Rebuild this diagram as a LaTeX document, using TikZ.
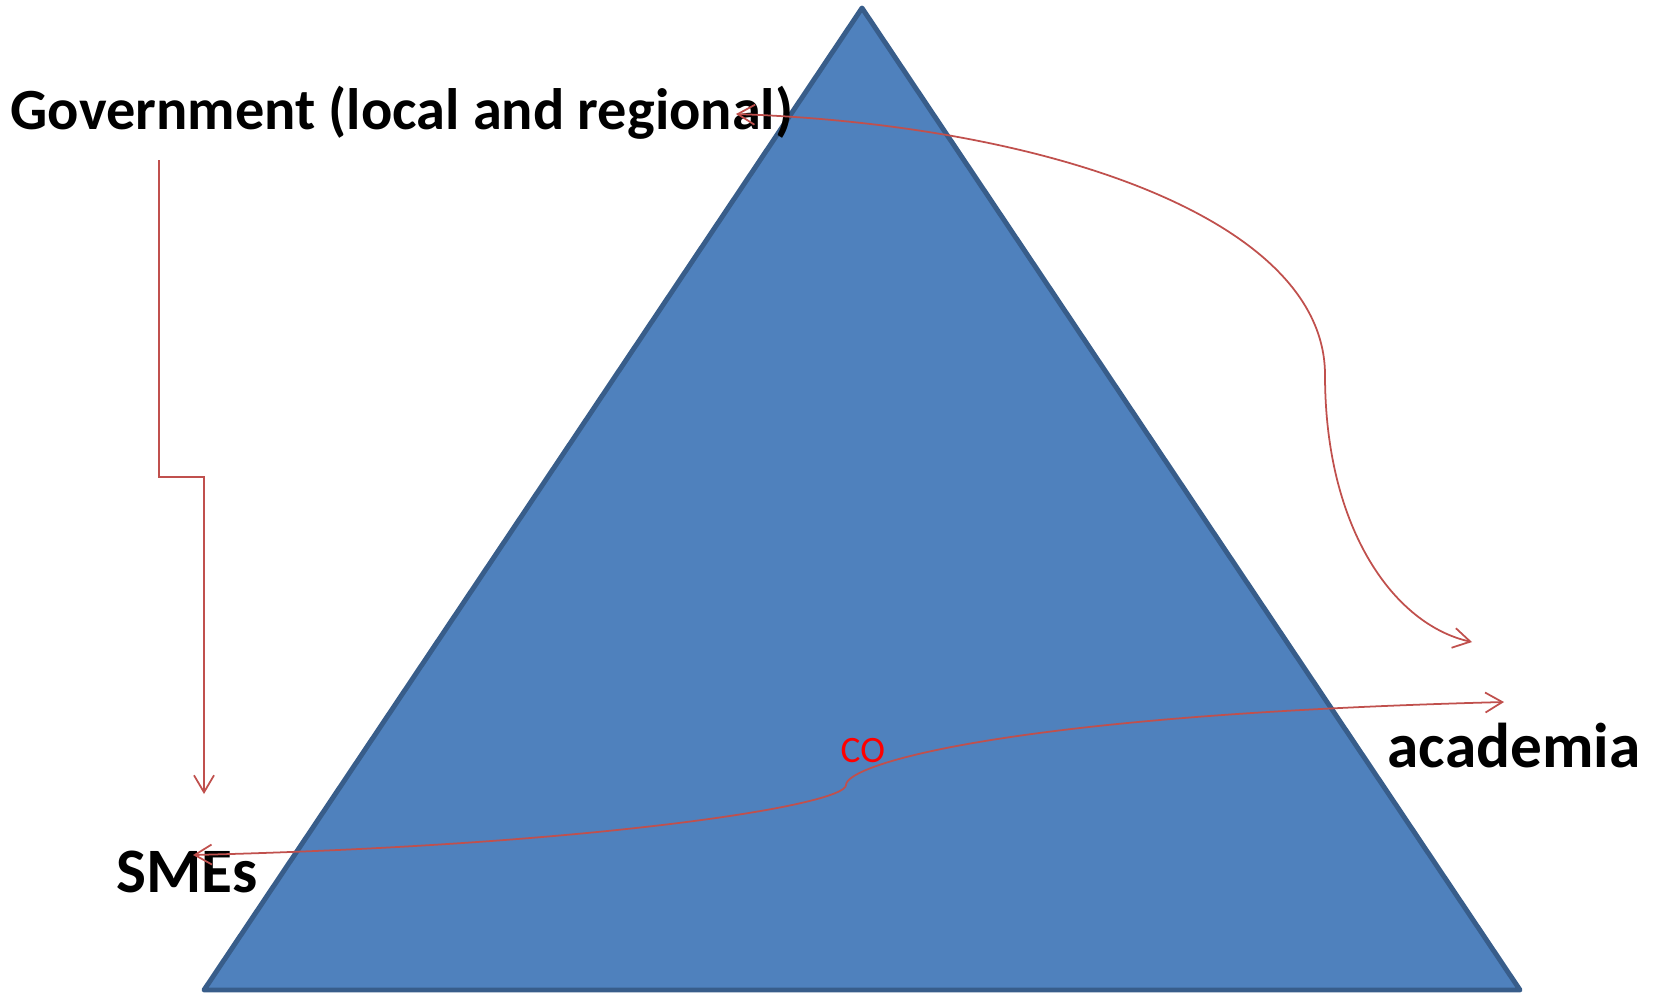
\documentclass[tikz,border=0pt]{standalone}
\usepackage{fontspec}
\setmainfont{Carlito}
\usetikzlibrary{arrows.meta}

\definecolor{triblue}{HTML}{4F81BD}
\definecolor{triedge}{HTML}{385D8A}
\definecolor{linkred}{HTML}{C0504D}

\begin{document}
\begin{tikzpicture}[x=0.01cm, y=-0.01cm,
  actor/.style={inner sep=0pt, anchor=base west, font=\bfseries\fontsize{18}{20}\selectfont},
  link/.style={draw=linkred, line width=0.5pt, -{Straight Barb[length=1.7mm, width=2mm]}},
  twolink/.style={link, {Straight Barb[length=1.7mm, width=2mm]}-{Straight Barb[length=1.7mm, width=2mm]}}]
  \useasboundingbox (0,0) rectangle (1655,993);

  % the pyramid
  \draw [fill=triblue, draw=triedge, line width=1.4pt, line join=round]
    (862,8) -- (1520,990) -- (204,990) -- cycle;

  \node (gov) [actor, font=\bfseries\fontsize{16.6}{20}\selectfont] at (10,129) {Government (local and regional)};
  \node (smes) [actor] at (116,892) {SMEs};
  \node (academia) [actor] at (1387,767) {academia};
  \node (co) [inner sep=0pt, anchor=base west, text=red, font=\fontsize{10.6}{12}\selectfont] at (840,762) {CO};

  \coordinate (govdrop) at (159,160);
  \coordinate (smesin) at (204,794);
  \coordinate (govin) at (736,114);
  \coordinate (acadtop) at (1472,642);
  \coordinate (smesleft) at (193,855);
  \coordinate (acadin) at (1504,702);
  \coordinate (cobend) at (846,785);

  \draw [link] (govdrop) -- ++(0,317) -| (smesin);
  \draw [twolink] (govin) .. controls (1050,125) and (1325,220) .. (1325,375)
    .. controls (1325,530) and (1395,625) .. (acadtop);
  \draw [twolink] (smesleft) .. controls (600,845) and (846,805) .. (cobend)
    .. controls (846,765) and (1000,715) .. (acadin);
\end{tikzpicture}
\end{document}
